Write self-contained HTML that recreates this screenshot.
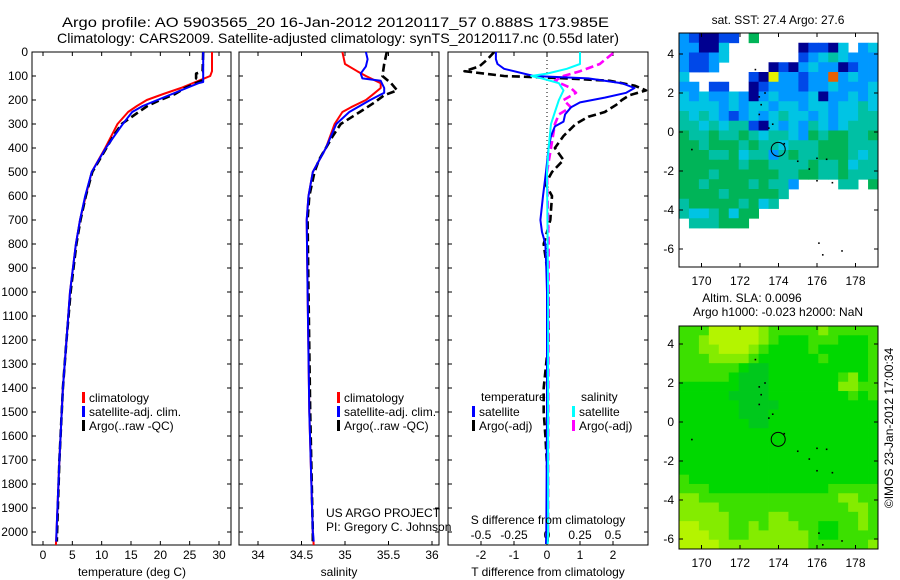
<!DOCTYPE html>
<html><head><meta charset="utf-8"><style>
body{margin:0;background:#fff;}
svg{display:block;font-family:"Liberation Sans",sans-serif;}
text{fill:#000;}
</style></head><body>
<svg id="fig" width="900" height="580" viewBox="0 0 900 580">
<defs>
<clipPath id="c1"><rect x="32" y="52" width="199" height="493"/></clipPath>
<clipPath id="c2"><rect x="239" y="52" width="200" height="493"/></clipPath>
<clipPath id="c3"><rect x="448" y="52" width="200" height="493"/></clipPath>
</defs>
<text x="62" y="27" font-size="14" textLength="547" lengthAdjust="spacingAndGlyphs">Argo profile: AO 5903565_20 16-Jan-2012 20120117_57 0.888S 173.985E</text>
<text x="57" y="43" font-size="14" textLength="562" lengthAdjust="spacingAndGlyphs">Climatology: CARS2009. Satellite-adjusted climatology: synTS_20120117.nc (0.55d later)</text>
<g id="layer"></g>
<text x="132" y="576" font-size="12" text-anchor="middle">temperature (deg C)</text>
<text x="339" y="576" font-size="12" text-anchor="middle">salinity</text>
<text x="548" y="576" font-size="12" text-anchor="middle">T difference from climatology</text>
<text x="548" y="524" font-size="12" text-anchor="middle">S difference from climatology</text>
<text x="326" y="517" font-size="12">US ARGO PROJECT</text>
<text x="326" y="531" font-size="12">PI: Gregory C. Johnson</text>
<text x="778" y="24" font-size="12" text-anchor="middle">sat. SST: 27.4  Argo: 27.6</text>
<text x="752" y="302" font-size="12" text-anchor="middle">Altim. SLA: 0.0096</text>
<text x="778" y="316" font-size="12" text-anchor="middle">Argo h1000: -0.023 h2000: NaN</text>
<text transform="translate(893,428) rotate(-90)" font-size="12" text-anchor="middle">©IMOS 23-Jan-2012 17:00:34</text>
</svg>
<script>
// ---------- data ----------
const depthTicks = [0,100,200,300,400,500,600,700,800,900,1000,1100,1200,1300,1400,1500,1600,1700,1800,1900,2000];
const tempTicks = [0,5,10,15,20,25,30];
const salTicks = [34,34.5,35,35.5,36];
const salTickLabels = ['34','34.5','35','35.5','36'];
const tdTicks = [-2,-1,0,1,2];
const sdTicks = [-0.5,-0.25,0,0.25,0.5];
const sdTickLabels = ['-0.5','-0.25','0','0.25','0.5'];

const climTDepth = [0,80,100,110,125,150,175,200,225,250,300,400,500,600,700,800,1000,1200,1400,1700,2000,2055];
const climTVal   = [28.8,28.8,28.5,27.5,26,23.5,20.5,17.7,16,14.5,12.7,10.6,8.3,7.3,6.3,5.6,4.6,4.0,3.4,2.8,2.3,2.2];
const satTDepth  = [0,125,130,150,175,200,225,250,300,400,500,600,700,800,1000,1200,1400,1700,2000,2040];
const satTVal    = [27.3,27.3,26.5,24.5,22,19.5,17,15.2,13.6,10.7,8.3,7.2,6.3,5.6,4.6,4.0,3.4,2.8,2.3,2.25];
const argoTDepth = [0,80,90,110,120,150,175,200,225,250,300,350,400,500,600,700,800,1000,1200,1400,1700,2000,2040];
const argoTVal   = [27.3,27.2,26.1,26.1,27.0,24.2,22.5,20,17.8,16.3,13.4,12,10.8,8.4,7.3,6.4,5.7,4.7,4.0,3.4,2.8,2.4,2.35];

const climSDepth = [0,50,80,100,130,150,180,200,230,250,300,400,500,600,700,1000,1500,2000,2055];
const climSVal   = [34.97,35.0,35.14,35.24,35.41,35.41,35.31,35.24,35.07,34.97,34.88,34.78,34.63,34.58,34.56,34.57,34.59,34.63,34.64];
const satSDepth  = [0,30,60,90,110,120,150,170,200,250,300,400,500,600,700,1000,1500,2000,2040];
const satSVal    = [35.24,35.26,35.24,35.18,35.2,35.41,35.45,35.45,35.29,35.05,34.9,34.78,34.63,34.58,34.56,34.57,34.59,34.63,34.64];
const argoSDepth = [0,50,100,130,160,180,210,250,300,350,450,500,600,700,1000,1500,2000,2040];
const argoSVal   = [35.48,35.45,35.43,35.53,35.6,35.45,35.34,35.17,34.95,34.86,34.7,34.65,34.59,34.57,34.58,34.6,34.63,34.63];

const satTdDepth = [0,30,50,70,100,110,130,150,170,190,210,230,260,290,310,350,400,500,600,700,750,800,900,1000,1500,2000,2050];
const satTdVal   = [-1.55,-1.55,-1.5,-1.3,-0.4,1.25,2.27,2.65,2.4,1.75,1.0,0.73,0.55,0.5,0.24,0.12,0.05,-0.03,-0.12,-0.2,-0.15,-0.05,-0.02,0,0,-0.02,-0.03];
const argoTdDepth = [0,30,60,80,100,110,120,140,160,180,200,220,250,270,300,350,400,450,500,550,600,700,800,900,1000,1200,1400,1500,1600,1800,2000,2040];
const argoTdVal   = [-1.6,-1.8,-2.05,-2.5,-1.3,0.6,1.9,2.65,3.0,2.5,2.27,2.1,1.75,1.25,0.87,0.5,0.24,0.5,0.15,-0.05,0.15,0.1,-0.1,0,0.05,0.05,-0.1,-0.1,-0.05,0.03,0.02,0.02];
const satSdDepth = [0,50,70,90,100,110,130,160,200,250,300,400,500,1000,2000,2050];
const satSdVal   = [0.25,0.25,0.15,0,-0.12,-0.04,0.09,0.125,0.09,0.06,0.03,0.012,0,0.008,0.008,0.005];
const argoSdDepth = [5,50,80,100,120,150,170,200,230,260,300,400,500,800,1000,1500,2000];
const argoSdVal   = [0.5,0.4,0.25,0.125,0.06,0.18,0.22,0.125,0.18,0.09,0.06,0.03,0,0.012,0.012,0.01,0.008];

const mapLonTicks = [170,172,174,176,178];
const mapLatTicks = [4,2,0,-2,-4,-6];
const sstGrid = [
"LBNNBBWGWWWWWWWWWWWW",
"LLNNCWWWWWWWNBBNCWLC",
"LBBLCWWWWWWWBLCTCLLL",
"LBBLWWWWWNBNLCLLNBLL",
"CWWWWWWBNYLLBLLOLCLL",
"LLWBBWWNBLLLBLLCLLLC",
"CLCLLCLNLCLLLCNLLCLC",
"CCCCLCLCCLCCLCCLCCTC",
"TCTCLBLCLCTCCLCLCCTT",
"TTCTCTTBNCLCLTCLCTTT",
"GTTGTTGTCTTCLGTGGTTG",
"GGTGGGTGTTCTTTGGGTTT",
"GGGTTGCTTLTGTTGGGTCT",
"GGGGGGTGGTTTTGTTGCTT",
"GGGTGGGGGGTTGGTTGTTT",
"GGTGGGGTGTTLWWWWTTWG",
"GGGGTGGGGGTWWWWWWWWW",
"TGGGGGTGCTWWWWWWWWWW",
"TCCTGCGGWWWWWWWWWWWW",
"WTTTGGGWWWWWWWWWWWWW",
"WWWWWWWWWWWWWWWWWWWW",
"WWWWWWWWWWWWWWWWWWWW",
"WWWWWWWWWWWWWWWWWWWW",
"WWWWWWWWWWWWWWWWWWWW"];
const slaGrid = [
"gggYYYYYygggggyggggg",
"ggyYYYYYygGGGgggGGGg",
"ggyyYYYygGGGGgGGGGGg",
"gggyyyygGGGGGGgGGGGg",
"ggggggGDDGGGGGGGGGGg",
"gggggGDDDGGGGGGGgyGg",
"GGGGGGDDDGGGGGGGyygg",
"GGGGGDDDDGGGGGGGGgGg",
"GGGGGGDDDDGGGGGGGGGG",
"GGGGGGDDDGGGGGGGGGGG",
"GGGGGGGDDGGGGGGGGGGG",
"GGGGGGGGGGGGGGGGGGGG",
"GGGGGGGGGGGGGGGGGGGG",
"GGGGGGGGGGGGGGGGGGGG",
"GGGGGGGGGGGGGGGGGGGG",
"GGGGGGGGGGGGGGGGGGGG",
"gGGGGGGGGGGGGGGGGGGG",
"gggGGGGGGGGGGGGggggg",
"yyggggggggggggggyygg",
"yyyygggggggggggggyyg",
"yyyyyggggyygggggggyg",
"YYyyyggygyyyggGGggyg",
"YYYyyggyyyyyygGGgggg",
"YYYYyyyyyyyyyggggggy"];
const islandLon = [172.8,173.0,173.1,173.3,173.0,173.5,173.7,174.3,175.0,175.6,176.0,176.5,176.0,176.8,169.5,176.1,176.3,177.3];
const islandLat = [3.2,1.8,1.4,2.0,0.9,0.2,0.4,-0.6,-1.5,-1.9,-1.35,-1.4,-2.5,-2.6,-0.9,-5.7,-6.3,-6.1];
const argoLon = [173.985];
const argoLat = [-0.888];

// ---------- helpers ----------
const NS='http://www.w3.org/2000/svg';
const layer=document.getElementById('layer');
function mk(tag,attrs,parent){const e=document.createElementNS(NS,tag);for(const k in attrs)e.setAttribute(k,attrs[k]);(parent||layer).appendChild(e);return e;}
function lin(d0,d1,p0,p1){return v=>p0+(v-d0)*(p1-p0)/(d1-d0);}
const yD = lin(0,2000,52,532);

// ---------- profile panels ----------
const panels=[
 {x0:32,x1:231,sx:lin(0,30,43,219),clip:'c1',name:'temperature'},
 {x0:239,x1:439,sx:lin(34,36,258,432),clip:'c2',name:'salinity'},
 {x0:448,x1:648,sx:lin(0,2,547,613),clip:'c3',name:'difference'}];

panels.forEach((p,i)=>{
 const g=mk('g',{});
 
 
 const r=mk('rect',{x:p.x0,y:52,width:p.x1-p.x0,height:493,fill:'#fff',stroke:'#000','stroke-width':1},g);
 
 
 depthTicks.forEach(d=>{
  const y=yD(d);
  mk('line',{x1:p.x0,x2:p.x0+4,y1:y,y2:y,stroke:'#000'},g);
  mk('line',{x1:p.x1-4,x2:p.x1,y1:y,y2:y,stroke:'#000'},g);
  if(i===0){
   const t=mk('text',{x:28,y:y+4,'font-size':12,'text-anchor':'end'},g);
   t.textContent=d;
   
   
  }
 });
});
function xTicks(p,vals,labels,ly,top){
 vals.forEach((v,k)=>{
  const x=p.sx(v);
  mk('line',{x1:x,x2:x,y1:545,y2:541,stroke:'#000'});
  if(top) mk('line',{x1:x,x2:x,y1:52,y2:56,stroke:'#000'});
  const t=mk('text',{x:x,y:ly,'font-size':12,'text-anchor':'middle'});
  t.textContent=labels?labels[k]:v;
  
  
 });
}
xTicks(panels[0],tempTicks,null,559,true);
xTicks(panels[1],salTicks,salTickLabels,559,true);
xTicks(panels[2],tdTicks,null,559,true);
sdTicks.forEach((v,k)=>{
 const x=panels[2].sx(v*4);
 const t=mk('text',{x:x,y:539,'font-size':12,'text-anchor':'middle'});
 t.textContent=sdTickLabels[k];
 
 
});
const zl=mk('line',{x1:panels[2].sx(0),x2:panels[2].sx(0),y1:52,y2:545,stroke:'#000','stroke-dasharray':'1,3','stroke-width':1});



function series(p,depths,vals,color,dashed,name,scale){
 const pts=depths.map((d,k)=>p.sx(vals[k]*(scale||1)).toFixed(1)+','+yD(d).toFixed(1)).join(' ');
 const pl=mk('polyline',{points:pts,fill:'none',stroke:color,'stroke-width':dashed?2.6:2,'stroke-dasharray':dashed?'8,4':'none','clip-path':'url(#'+p.clip+')','stroke-linejoin':'round'});
 
 
}
series(panels[0],climTDepth,climTVal,'#f00',false,'climatology-temperature-line');
series(panels[0],argoTDepth,argoTVal,'#000',true,'argo-temperature-line');
series(panels[0],satTDepth,satTVal,'#00f',false,'satellite-temperature-line');
series(panels[1],climSDepth,climSVal,'#f00',false,'climatology-salinity-line');
series(panels[1],argoSDepth,argoSVal,'#000',true,'argo-salinity-line');
series(panels[1],satSDepth,satSVal,'#00f',false,'satellite-salinity-line');
series(panels[2],argoTdDepth,argoTdVal,'#000',true,'argo-t-diff-line');
series(panels[2],argoSdDepth,argoSdVal,'#f0f',true,'argo-s-diff-line',4);
series(panels[2],satTdDepth,satTdVal,'#00f',false,'satellite-t-diff-line');
series(panels[2],satSdDepth,satSdVal,'#0ff',false,'satellite-s-diff-line',4);

function legend(x,y,items,name){
 items.forEach((it,k)=>{
  const yy=y+k*14;
  const m=mk('rect',{x:x,y:yy-9,width:3,height:11,fill:it[1]});
  
  
  const t=mk('text',{x:x+7,y:yy+1,'font-size':12});
  t.textContent=it[0];
  
  
 });
}
legend(82,401,[['climatology','#f00'],['satellite-adj. clim.','#00f'],['Argo(..raw -QC)','#000']],'temp-legend');
legend(337,401,[['climatology','#f00'],['satellite-adj. clim.','#00f'],['Argo(..raw -QC)','#000']],'sal-legend');
const lt=mk('text',{x:481,y:401,'font-size':12});lt.textContent='temperature';


const ls=mk('text',{x:581,y:401,'font-size':12});ls.textContent='salinity';


legend(472,415,[['satellite','#00f'],['Argo(-adj)','#000']],'tdiff-legend');
legend(572,415,[['satellite','#0ff'],['Argo(-adj)','#f0f']],'sdiff-legend');

// ---------- maps ----------
const sstColors={W:'#ffffff',N:'#000090',B:'#0048e8',L:'#0098ff',C:'#00c4e4',T:'#00c0a4',G:'#00b458',Y:'#e8f000',O:'#e86000'};
const slaColors={G:'#00d800',g:'#3ce000',y:'#84ec00',Y:'#b4f400',D:'#00c81c'};
function drawMap(m){
 const sx=lin(170,178,701.5,855.5), sy=lin(0,-6,m.y0lat,m.y6lat);
 const g=mk('g',{});
 
 
 const rows=m.grid.length, cols=m.grid[0].length;
 const cw=(878-679)/cols, ch=(m.bot-m.top)/rows;
 m.grid.forEach((row,r)=>{
  for(let c=0;c<cols;c++){
   const col=m.colors[row[c]];
   if(col==='#ffffff') continue;
   const cell=mk('rect',{x:(679+c*cw).toFixed(2),y:(m.top+r*ch).toFixed(2),width:(cw+0.4).toFixed(2),height:(ch+0.4).toFixed(2),fill:col},g);
   
   
  }
 });
 islandLon.forEach((lo,k)=>{
  const d=mk('rect',{x:sx(lo)-0.8,y:sy(islandLat[k])-0.8,width:1.6,height:1.6,fill:'#000'},g);
  
  
 });
 argoLon.forEach((lo,k)=>{
  const c=mk('circle',{cx:sx(lo),cy:sy(argoLat[k]),r:7,fill:'none',stroke:'#000','stroke-width':1},g);
  
  
 });
 const fr=mk('rect',{x:679,y:m.top,width:199,height:m.bot-m.top,fill:'none',stroke:'#000'},g);
 
 
 mapLonTicks.forEach(v=>{
  const x=sx(v);
  mk('line',{x1:x,x2:x,y1:m.bot,y2:m.bot-4,stroke:'#000'},g);
  mk('line',{x1:x,x2:x,y1:m.top,y2:m.top+4,stroke:'#000'},g);
  const t=mk('text',{x:x,y:m.bot+18,'font-size':12,'text-anchor':'middle'},g);
  t.textContent=v;
  
  
 });
 mapLatTicks.forEach(v=>{
  const y=sy(v);
  mk('line',{x1:679,x2:683,y1:y,y2:y,stroke:'#000'},g);
  mk('line',{x1:874,x2:878,y1:y,y2:y,stroke:'#000'},g);
  const t=mk('text',{x:674,y:y+4,'font-size':12,'text-anchor':'end'},g);
  t.textContent=v;
  
  
 });
}
drawMap({name:'sst-map',grid:sstGrid,colors:sstColors,top:33,bot:267,y0lat:132,y6lat:249});
drawMap({name:'sla-map',grid:slaGrid,colors:slaColors,top:326,bot:549,y0lat:422,y6lat:539});
</script>
</body></html>
